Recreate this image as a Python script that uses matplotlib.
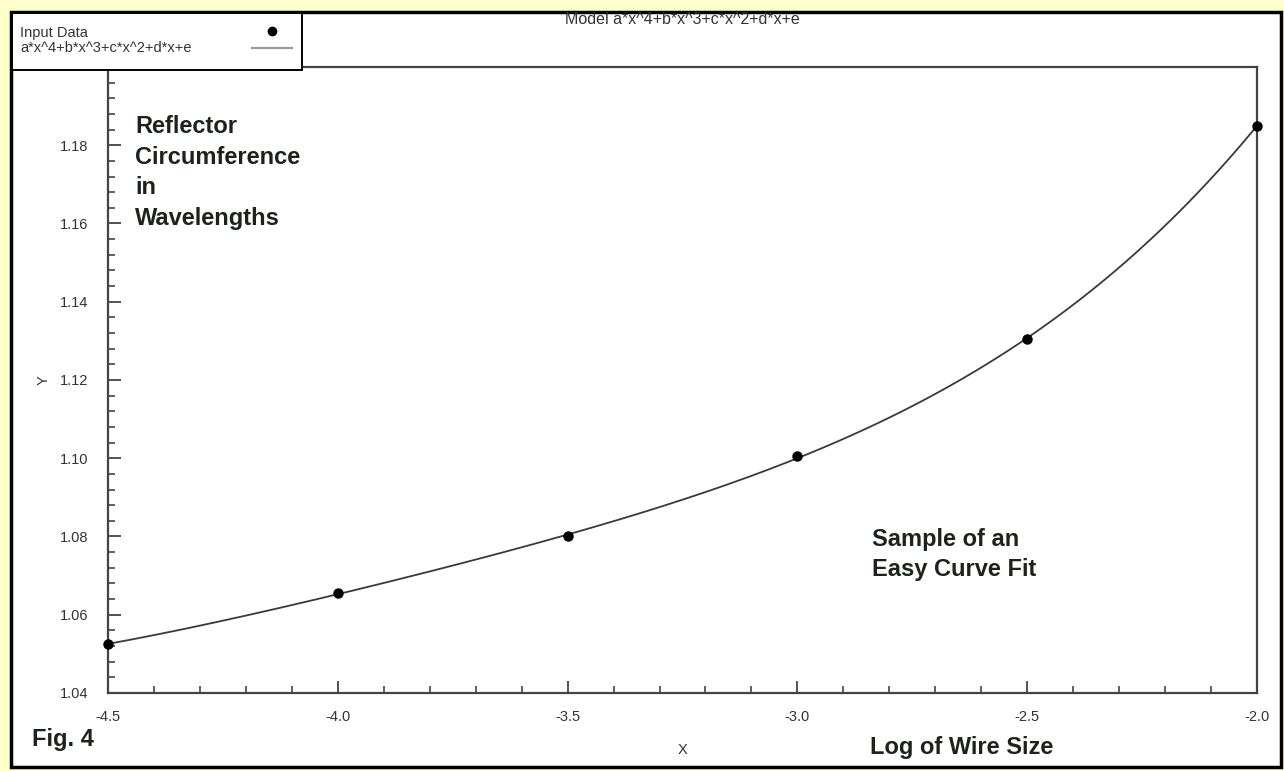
import numpy as np
import matplotlib
matplotlib.use("Agg")
import matplotlib.pyplot as plt
from matplotlib.patches import Rectangle
from matplotlib.lines import Line2D
from matplotlib.ticker import MultipleLocator, FormatStrFormatter, FuncFormatter

plt.rcParams['font.family'] = ['Liberation Sans', 'DejaVu Sans']

# input data
x_data = [-4.5, -4.0, -3.5, -3.0, -2.5, -2.0]
y_data = [1.0525, 1.0655, 1.0800, 1.1005, 1.1305, 1.1850]

W, H = 1284, 771
fig = plt.figure(figsize=(W / 100, H / 100), dpi=100, facecolor='#FFFFCC')


def fx(px):
    return px / W


def fy(py):
    return 1 - py / H


# white panel with black frame
fig.patches.append(Rectangle((fx(11), fy(767)), fx(1281) - fx(11), fy(12) - fy(767),
                             transform=fig.transFigure, facecolor='white',
                             edgecolor='black', linewidth=2.5, zorder=-10))

ax = fig.add_axes([fx(108), fy(693), fx(1257) - fx(108), fy(67) - fy(693)])
ax.set_facecolor('white')

# 4th order polynomial model fitted to the input data
coef = np.polyfit(x_data, y_data, 4)
xs = np.linspace(-4.5, -2.0, 300)
ax.plot(xs, np.polyval(coef, xs), color='#3a3a3a', lw=1.3, zorder=2)
ax.plot(x_data, y_data, 'o', color='black', ms=6.5, zorder=3, clip_on=False)

ax.set_xlim(-4.5, -2.0)
ax.set_ylim(1.04, 1.20)
ax.xaxis.set_major_locator(MultipleLocator(0.5))
ax.xaxis.set_minor_locator(MultipleLocator(0.1))
ax.yaxis.set_major_locator(MultipleLocator(0.02))
ax.yaxis.set_minor_locator(MultipleLocator(0.004))
ax.xaxis.set_major_formatter(FormatStrFormatter('%.1f'))
ax.yaxis.set_major_formatter(FuncFormatter(lambda v, p: '' if v > 1.195 else '%.2f' % v))
ax.tick_params(which='both', direction='in', colors='#444444', labelcolor='#333333',
               labelsize=10.5, top=False, right=False)
ax.tick_params(which='major', length=9, width=1.3)
ax.tick_params(which='minor', length=5, width=1.2)
ax.tick_params(axis='x', which='major', pad=12)
ax.tick_params(axis='y', which='major', pad=14)
for s in ax.spines.values():
    s.set_color('#444444')
    s.set_linewidth(1.6)

ax.set_xlabel('X', fontsize=10.5, color='#333333', labelpad=14)
ax.set_ylabel('Y', fontsize=10.5, color='#333333', labelpad=7)

fig.text(fx(682), fy(20), 'Model a*x^4+b*x^3+c*x^2+d*x+e', ha='center', va='center',
         fontsize=11.5, color='#333333')

# legend box in the top left corner
fig.patches.append(Rectangle((fx(12), fy(70)), fx(302) - fx(12), fy(13) - fy(70),
                             transform=fig.transFigure, facecolor='white',
                             edgecolor='black', linewidth=1.4, zorder=5))
fig.text(fx(20), fy(33), 'Input Data', va='center', fontsize=10.5, color='#333333', zorder=6)
fig.text(fx(20), fy(48), 'a*x^4+b*x^3+c*x^2+d*x+e', va='center', fontsize=10.5,
         color='#333333', zorder=6)
fig.lines.append(Line2D([fx(272)], [fy(31)], transform=fig.transFigure, marker='o',
                        color='black', ms=6, ls='none', zorder=6))
fig.lines.append(Line2D([fx(252), fx(292)], [fy(48), fy(48)], transform=fig.transFigure,
                        color='#999999', lw=1.6, zorder=6))

bold = dict(fontsize=17, fontweight='bold', color='#1c221c')
fig.text(fx(135), fy(115), 'Reflector\nCircumference\nin\nWavelengths', va='top',
         linespacing=1.42, **bold)
fig.text(fx(872), fy(528), 'Sample of an\nEasy Curve Fit', va='top', linespacing=1.38, **bold)
fig.text(fx(32), fy(746), 'Fig. 4', va='baseline', **bold)
fig.text(fx(870), fy(754), 'Log of Wire Size', va='baseline', **bold)

fig.savefig('out.png', dpi=100, facecolor=fig.get_facecolor())
